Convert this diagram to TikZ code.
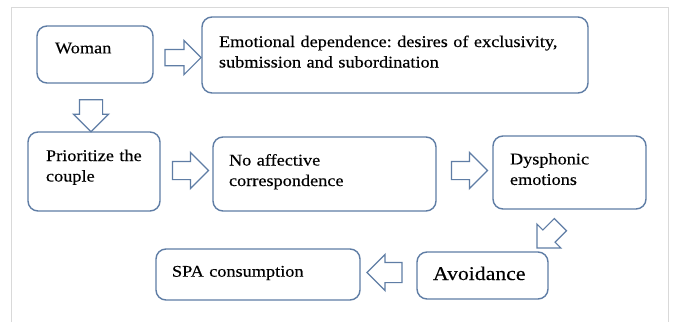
\documentclass[tikz,border=0pt]{standalone}
\usepackage{fontspec}
\setmainfont{Liberation Serif}[FakeStretch=1.12,FakeBold=0.3]
\usetikzlibrary{shapes.arrows,calc}
\definecolor{bcol}{RGB}{95,125,165}
\definecolor{fcol}{RGB}{217,217,217}
\frenchspacing
\begin{document}
\begin{tikzpicture}[x=1pt,y=-1pt,
  bx/.style={draw=bcol, line width=1.4pt, rounded corners=10pt, fill=white,
    anchor=north west, inner ysep=0pt, outer sep=0pt, align=left,
    font=\fontsize{16.3}{20.5}\selectfont},
  blk/.style={single arrow, draw=bcol, line width=1.2pt, fill=white,
    inner xsep=0pt, text height=0pt, text depth=0pt, minimum width=0pt,
    outer sep=0pt}]
\useasboundingbox (0,0) rectangle (673,322);
\fill[white] (0,0) rectangle (673,322);
\draw[fcol, line width=1pt] (11,322) -- (11,7) -- (668,7) -- (668,322);

\node[bx, inner xsep=18pt, text width=80pt, text height=27.3pt, text depth=29.7pt] (woman) at (37,26) {Woman};
\node[bx, inner xsep=17pt, text width=352pt, text height=30pt, text depth=46pt] (emo) at (202,17)
  {\mbox{Emotional dependence: desires of exclusivity,}\\ \mbox{submission and subordination}};
\node[bx, inner xsep=18pt, text width=96pt, text height=29pt, text depth=50pt] (prio) at (28,132)
  {\mbox{Prioritize the}\\ couple};
\node[bx, inner xsep=16pt, text width=191pt, text height=28.5pt, text depth=45.5pt] (noaff) at (213,137)
  {\mbox{No affective}\\ correspondence};
\node[bx, inner xsep=17pt, text width=119pt, text height=28.4pt, text depth=44.6pt] (dys) at (493,136)
  {Dysphonic\\ emotions};
\node[bx, inner xsep=16pt, text width=172pt, text height=27.7pt, text depth=23.3pt] (spa) at (156,249)
  {SPA consumption};
\node[bx, inner xsep=16pt, text width=99pt, text height=28pt, text depth=19pt,
  font=\fontsize{19.4}{23}\selectfont] (avoid) at (417,252) {Avoidance};

\node[blk, minimum height=36pt, inner ysep=7.5pt, single arrow head extend=9pt]
  (a1) at ($(woman.east)!0.5!(emo.west)+(1.5,2.8)$) {};
\node[blk, minimum height=32pt, inner ysep=11pt, single arrow head extend=6pt, rotate=270]
  (a2) at ($(woman.south)!0.5!(prio.north)+(-3.5,2.5)$) {};
\node[blk, minimum height=36pt, inner ysep=8.5pt, single arrow head extend=9pt]
  (a3) at ($(prio.east)!0.5!(noaff.west)+(-0.5,-2.25)$) {};
\node[blk, minimum height=36pt, inner ysep=8.5pt, single arrow head extend=9pt]
  (a4) at ($(noaff.east)!0.5!(dys.west)+(0.5,-2.75)$) {};
\node[blk, minimum height=33pt, inner ysep=8pt, single arrow head extend=8.25pt, rotate=225]
  (a5) at ($(dys.south)!0.5!(avoid.north east)+(-7,2.8)$) {};
\node[blk, minimum height=35pt, inner ysep=9.5pt, single arrow head extend=8pt, rotate=180]
  (a6) at ($(avoid.west)!0.5!(spa.east)+(1,-2.5)$) {};
\end{tikzpicture}
\end{document}
